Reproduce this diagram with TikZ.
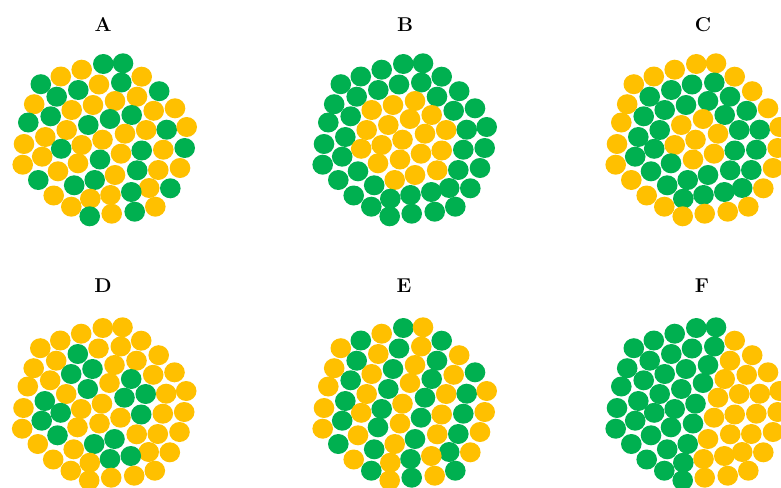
\documentclass[tikz,border=0pt]{standalone}
\usepackage{fontspec}
\definecolor{gr}{HTML}{00B050}
\definecolor{yl}{HTML}{FFC000}
\tikzset{ttl/.style={font=\bfseries\fontsize{20}{20}\selectfont, inner sep=0pt}}
\def\layout{103.3/64, 123/63.3, 81.7/69.7, 60.8/76.5, 141.7/76.7, 40.8/84.2, 78.3/90, 99/84.5, 121.3/82.5, 159.2/91.2,
137/96.7, 56.7/96.7, 34.2/104.2, 71.7/110, 93/105, 115/101, 153.7/110.8, 175/108.3, 28.3/122.5, 50.7/116.3,
88.3/125, 110/119, 131.7/115, 66.7/130, 146.2/130, 166.7/129.7, 186.7/127, 45.3/137, 24/144, 81.7/145,
102.5/139.7, 125/133.7, 61.2/148.8, 141.7/150.5, 163.3/149.7, 184.7/148, 42.2/156.7, 100/159.5, 121/153.7, 78/163.3,
22.7/164.7, 58/171.3, 137.2/170.3, 158.3/170, 180/168, 38.3/180, 74.2/185.3, 94.7/180, 115/175, 149.2/188,
170.3/188.3, 53.7/195.5, 90.3/198.7, 110.5/195, 131.3/192, 71.3/206.7, 155.3/206.7, 89.7/216.3, 111.7/213.7, 134.7/211.7}
\def\colA{1,1,0,0,0,1,1,0,1,1, 0,1,0,0,0,0,0,0,1,1, 1,1,1,0,0,1,0,0,0,0, 0,0,1,1,0,1,0,1,0,0, 0,0,1,0,0,1,1,1,0,0, 1,0,0,0,1,0,0,1,0,1}
\def\colB{1,1,1,1,1,1,1,1,1,1, 1,1,1,0,0,0,1,1,1,1, 0,0,0,0,0,1,1,1,1,0, 0,0,0,0,1,1,1,0,0,0, 1,1,0,1,1,1,1,0,0,1, 1,1,1,1,1,1,1,1,1,1}
\def\colC{0,0,0,0,0,0,1,1,1,0, 1,1,0,1,1,1,1,0,0,1, 0,0,1,1,1,1,0,1,0,0, 0,0,1,1,1,0,1,0,0,1, 0,1,1,1,0,0,1,1,1,1, 0,0,1,1,1,0,0,0,0,0}
\def\colD{0,0,0,0,0,0,1,0,0,0, 0,0,0,1,1,0,0,0,0,0, 1,0,1,0,1,0,0,1,0,0, 0,1,1,1,0,0,1,0,0,0, 0,1,0,0,0,0,0,1,1,0, 0,0,0,1,1,0,0,0,0,0}
\def\colE{1,0,0,1,1,0,0,1,0,0, 1,1,0,0,1,0,0,1,0,1, 1,0,1,0,0,1,0,1,0,1, 0,1,0,0,1,0,1,0,1,1, 0,0,0,1,0,1,1,0,1,1, 0,0,0,1,0,1,1,0,1,0}
\def\colF{1,1,1,1,0,1,1,1,1,0, 0,1,1,1,1,1,0,0,1,1, 1,1,0,1,0,0,0,1,1,1, 1,0,1,0,0,0,1,1,0,1, 1,1,0,0,0,1,1,1,0,0, 0,1,1,0,0,1,0,1,0,0}
\newcommand\drawpanel[3]{%
  \foreach \px/\py [count=\i from 0] in \layout {%
    \pgfmathtruncatemacro\cc{{#3}[\i]}%
    \ifnum\cc=1 \def\fc{gr}\else\def\fc{yl}\fi
    \fill[\fc] (\px+#1,\py+#2) ellipse [x radius=10.3pt, y radius=10pt];
  }}
\begin{document}
\begin{tikzpicture}[x=1pt,y=-1pt]
\useasboundingbox (0,0) rectangle (781,487);
\drawpanel{0}{0}{\colA}
\drawpanel{300}{0}{\colB}
\drawpanel{593}{0}{\colC}
\drawpanel{-0.5}{264}{\colD}
\drawpanel{300}{264}{\colE}
\drawpanel{593}{264}{\colF}
\node[ttl] (tA) at (103,24.5) {A};
\node[ttl] (tB) at (405,24.5) {B};
\node[ttl] (tC) at (703,24.5) {C};
\node[ttl] (tD) at (103,286) {D};
\node[ttl] (tE) at (404,286) {E};
\node[ttl] (tF) at (702,286) {F};
\end{tikzpicture}
\end{document}
